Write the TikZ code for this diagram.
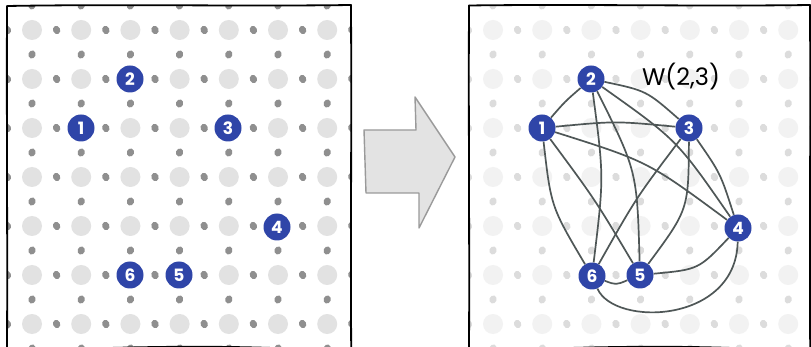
\documentclass[tikz,border=0pt]{standalone}
\usepackage{fontspec}
\newfontfamily\handfont{Poppins}
\definecolor{nodeblue}{HTML}{2F45A8}
\definecolor{edgegray}{HTML}{4F5757}
\definecolor{bigA}{HTML}{E2E2E2}
\definecolor{smallA}{HTML}{8F8F8F}
\definecolor{bigB}{HTML}{F2F2F2}
\definecolor{smallB}{HTML}{DCDCDC}
\definecolor{arrowfill}{HTML}{E3E3E3}
\definecolor{arrowline}{HTML}{9A9A9A}
\tikzset{
  frameline/.style={draw=black, line width=1.8pt, line cap=round},
  numnode/.style={circle, fill=nodeblue, minimum size=27pt, inner sep=0pt, text=white,
    font=\handfont\bfseries\fontsize{17}{17}\selectfont},
  edge/.style={draw=edgegray, line width=1.7pt},
  blockarrow/.style={fill=arrowfill, draw=arrowline, line width=1.4pt, line join=round},
}
\newcommand{\dotgrid}[3]{%
  % #1 x offset, #2 big colour, #3 small colour
  \foreach \i in {0,...,6} \foreach \j in {0,...,6}
    \fill[#2] ({#1+32+49.2*\i},{30+49*\j}) circle (10);
  \foreach \i in {-1,...,6} \foreach \j in {0,...,6}
    \fill[#3, rotate around={25:({#1+56.6+49.2*\i},{30+49*\j})}] ({#1+56.6+49.2*\i},{30+49*\j}) ellipse (3.6 and 4.2);
  \foreach \i in {0,...,6} \foreach \j in {-1,...,6}
    \fill[#3, rotate around={-20:({#1+32+49.2*\i},{54.5+49*\j})}] ({#1+32+49.2*\i},{54.5+49*\j}) ellipse (3.6 and 4.1);
}
\begin{document}
\begin{tikzpicture}[x=1pt,y=-1pt]
\useasboundingbox[fill=white] (0,0) rectangle (811,347);

% left panel grid
\begin{scope}
  \clip (7,5.5) rectangle (351,352);
  \dotgrid{0}{bigA}{smallA}
\end{scope}
% right panel grid
\begin{scope}
  \clip (469,5.5) rectangle (810,352);
  \dotgrid{461}{bigB}{smallB}
\end{scope}

% frames
\draw[frameline] (7.5,6) .. controls (120,4) and (240,6.5) .. (351,5);
\draw[frameline] (7,6) .. controls (6.5,120) and (7.6,240) .. (7,352);
\draw[frameline] (351,5) .. controls (351.6,120) and (350.6,240) .. (351.2,352);
\draw[frameline] (7,352) .. controls (150,345) and (250,345) .. (351,352);

\draw[frameline] (469,5.5) .. controls (580,4) and (700,6.5) .. (810,5);
\draw[frameline] (469,5.5) .. controls (468.4,120) and (469.6,240) .. (469,352);
\draw[frameline] (810,5) .. controls (810.6,120) and (809.6,240) .. (810.2,352);
\draw[frameline] (469,352) .. controls (610,345) and (710,345) .. (810,352);

% block arrow
\draw[blockarrow] (364,130) -- (416,130) -- (415,97) -- (455,157) -- (419,228) -- (419,193) -- (366,193) -- cycle;

% left nodes
\node[numnode] (l1) at (81,128) {1};
\node[numnode] (l2) at (130,79) {2};
\node[numnode] (l3) at (228,128) {3};
\node[numnode] (l4) at (277,227) {4};
\node[numnode] (l5) at (179,275) {5};
\node[numnode] (l6) at (130,275) {6};

% right nodes
\node[numnode] (r1) at (542,128) {1};
\node[numnode] (r2) at (591,79) {2};
\node[numnode] (r3) at (689,128) {3};
\node[numnode] (r4) at (738,228) {4};
\node[numnode] (r5) at (640,275) {5};
\node[numnode] (r6) at (592,276) {6};

\node[font=\handfont\fontsize{24}{24}\selectfont, text=black] (w) at (681,77) {W(2,3)};

% edges of K6
\draw[edge] (r1) .. controls (565,101.5) .. (r2);
\draw[edge] (r1) .. controls (615.5,121) .. (r3);
\draw[edge] (r1) .. controls (648,161.5) .. (r4);
\draw[edge] (r1) .. controls (595,199.5) .. (r5);
\draw[edge] (r1) .. controls (551,206.7) .. (r6);
\draw[edge] (r2) .. controls (646.4,90.7) .. (r3);
\draw[edge] (r2) .. controls (677,140) .. (r4);
\draw[edge] (r2) .. controls (637,171) .. (r5);
\draw[edge] (r2) .. controls (604,177) .. (r6);
\draw[edge] (r3) .. controls (720.5,173.4) .. (r4);
\draw[edge] (r3) .. controls (688.5,209.5) .. (r5);
\draw[edge] (r3) .. controls (636,198) .. (r6);
\draw[edge] (r4) .. controls (698.6,269.5) .. (r5);
\draw[edge] (r6) .. controls (614,327) and (736,324) .. (r4);
\draw[edge] (r6) .. controls (616,285) .. (r5);
\end{tikzpicture}
\end{document}
